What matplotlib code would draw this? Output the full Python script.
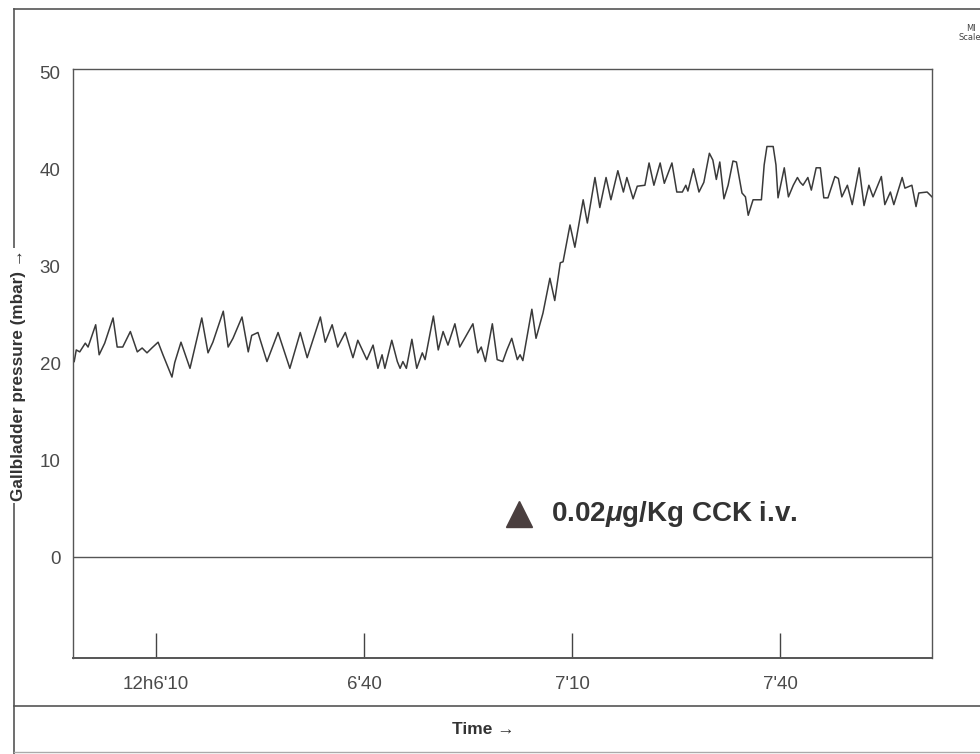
import matplotlib
matplotlib.use("Agg")
import matplotlib.pyplot as plt
from matplotlib.lines import Line2D

# time in seconds after 12h06'00, pressure in mbar (peaks/troughs)
time_s = [-1.8, -1.5, -1.0, -0.2, 0.2, 1.3, 1.8, 2.6, 3.8, 4.4, 5.2, 6.3, 7.3, 8.0, 8.7, 9.4,
          10.3, 11.0, 12.3, 12.7, 13.6, 14.9, 16.6, 17.5, 18.2, 19.7, 20.4, 21.1, 22.4, 23.3,
          23.8, 24.7, 26.0, 27.6, 29.3, 30.8, 31.8, 33.7, 34.4, 35.4, 36.2, 37.3, 38.4, 39.1,
          40.4, 41.3, 42.0, 42.6, 43.0, 44.0, 44.8, 45.2, 45.6, 46.1, 46.9, 47.6, 48.4, 48.8,
          50.0, 50.7, 51.4, 52.1, 53.1, 53.8, 55.7, 56.4, 56.9, 57.5, 58.5, 59.2, 60.0, 60.6,
          61.3, 62.1, 62.5, 62.9, 64.2, 64.8, 65.8, 66.8, 67.5, 68.3, 68.7, 69.7, 70.4, 71.6,
          72.2, 73.3, 74.0, 74.9, 75.6, 76.6, 77.4, 77.9, 78.8, 79.4, 80.5, 81.1, 81.8, 82.7,
          83.3, 84.4, 85.1, 85.9, 86.4, 86.7, 87.5, 88.3, 89.0, 89.8, 90.3, 90.8, 91.3, 91.9,
          92.5, 93.2, 93.7, 94.5, 95.0, 95.4, 96.1, 97.3, 97.7, 98.1, 99.0, 99.4, 99.7, 100.6,
          101.2, 101.9, 102.5, 102.9, 103.3, 104.0, 104.5, 105.2, 105.8, 106.3, 106.9, 107.9,
          108.4, 108.9, 109.7, 110.4, 111.4, 112.1, 112.8, 113.4, 114.6, 115.1, 115.9, 116.4,
          117.6, 118.0, 119.0, 119.6, 120.0, 121.2, 121.9]
pressure = [20.2, 21.4, 21.2, 22.1, 21.7, 24.0, 20.9, 22.1, 24.7, 21.7, 21.7, 23.3, 21.2, 21.6,
            21.1, 21.6, 22.2, 20.9, 18.6, 20.1, 22.2, 19.5, 24.7, 21.1, 22.2, 25.4, 21.7, 22.6,
            24.8, 21.2, 22.9, 23.2, 20.2, 23.2, 19.5, 23.2, 20.6, 24.8, 22.2, 24.0, 21.7, 23.2,
            20.6, 22.4, 20.4, 21.9, 19.5, 20.9, 19.5, 22.4, 20.2, 19.5, 20.2, 19.5, 22.5, 19.5,
            21.1, 20.4, 24.9, 21.4, 23.3, 21.9, 24.1, 21.7, 24.1, 21.1, 21.7, 20.2, 24.1, 20.4,
            20.2, 21.4, 22.6, 20.4, 20.9, 20.3, 25.6, 22.6, 25.2, 28.8, 26.5, 30.4, 30.5, 34.3,
            32.0, 36.9, 34.5, 39.2, 36.1, 39.2, 36.9, 39.9, 37.7, 39.2, 37.0, 38.3, 38.4, 40.7,
            38.4, 40.7, 38.6, 40.7, 37.7, 37.7, 38.4, 37.8, 40.1, 37.7, 38.7, 41.7, 41.0, 39.0,
            40.8, 37.0, 38.4, 40.9, 40.8, 37.6, 37.2, 35.3, 36.9, 36.9, 40.5, 42.4, 42.4, 40.5,
            37.1, 40.2, 37.2, 38.4, 39.2, 38.7, 38.4, 39.2, 37.9, 40.2, 40.2, 37.1, 37.1, 39.3,
            39.1, 37.2, 38.4, 36.4, 40.2, 36.3, 38.4, 37.2, 39.3, 36.4, 37.7, 36.4, 39.2, 38.1,
            38.4, 36.2, 37.6, 37.7, 37.2]

tick_times = [10, 40, 70, 100]
tick_labels = ["12h6'10", "6'40", "7'10", "7'40"]
y_ticks = [0, 10, 20, 30, 40, 50]

cck_time = 62.4
cck_level = 4.5
cck_text = r"0.02$\mu$g/Kg CCK i.v."

plt.rcParams["mathtext.fontset"] = "custom"
plt.rcParams["mathtext.rm"] = "Liberation Sans:bold"
plt.rcParams["mathtext.it"] = "Liberation Sans:italic:bold"

tick_font = ["Liberation Sans", "DejaVu Sans"]
bold_font = ["Liberation Sans", "DejaVu Sans"]

fig = plt.figure(figsize=(9.8, 7.54), dpi=100)
ax = fig.add_axes([0.0745, 0.1273, 0.8765, 0.7812])

ax.plot(time_s, pressure, color="#3a3a3a", lw=1.1)
ax.axhline(0, color="#555555", lw=1.0)

ax.plot([cck_time], [cck_level], marker="^", markersize=19, color="#4a3f3f", linestyle="none")
ax.text(cck_time + 4.6, cck_level, cck_text, fontsize=20, fontweight="bold",
        color="#333333", va="center", ha="left", family=bold_font)

ax.set_xlim(-1.97, 121.9)
ax.set_ylim(-10.4, 50.4)
ax.set_xticks(tick_times)
ax.set_xticklabels(tick_labels, family=tick_font, fontsize=13.5, color="#4a4a4a")
ax.set_yticks(y_ticks)
ax.set_yticklabels([str(v) for v in y_ticks], family=tick_font, fontsize=13.5, color="#4a4a4a")
ax.tick_params(axis="x", direction="in", length=18, width=1.0, color="#444444", pad=13)
ax.tick_params(axis="y", length=0, pad=9)
for s in ax.spines.values():
    s.set_color("#555555")
    s.set_linewidth(1.0)
ax.spines["bottom"].set_linewidth(1.4)

# outer frame of the recorder sheet
frame_kw = dict(color="#555555", lw=1.2, transform=fig.transFigure)
fig.add_artist(Line2D([0.0143, 0.0143], [0.0, 0.988], **frame_kw))
fig.add_artist(Line2D([0.0143, 1.0], [0.988, 0.988], **frame_kw))
fig.add_artist(Line2D([0.0143, 1.0], [0.0637, 0.0637], **frame_kw))
fig.add_artist(Line2D([0.0143, 1.0], [0.002, 0.002], color="#aaaaaa", lw=1.0,
                      transform=fig.transFigure))

fig.text(0.493, 0.033, "Time \u2192", fontsize=12.5, fontweight="bold", color="#333333",
         ha="center", va="center", family=bold_font)
fig.text(0.0185, 0.502, "Gallbladder pressure (mbar) \u2192", fontsize=12.3, fontweight="bold",
         color="#333333", ha="center", va="center", rotation=90, family=bold_font,
         bbox=dict(facecolor="white", edgecolor="none", pad=1))

fig.text(0.986, 0.962, "MI", fontsize=6, color="#444444", ha="left", va="center")
fig.text(0.978, 0.95, "Scale", fontsize=6, color="#444444", ha="left", va="center")

fig.savefig("out.png", dpi=100)
